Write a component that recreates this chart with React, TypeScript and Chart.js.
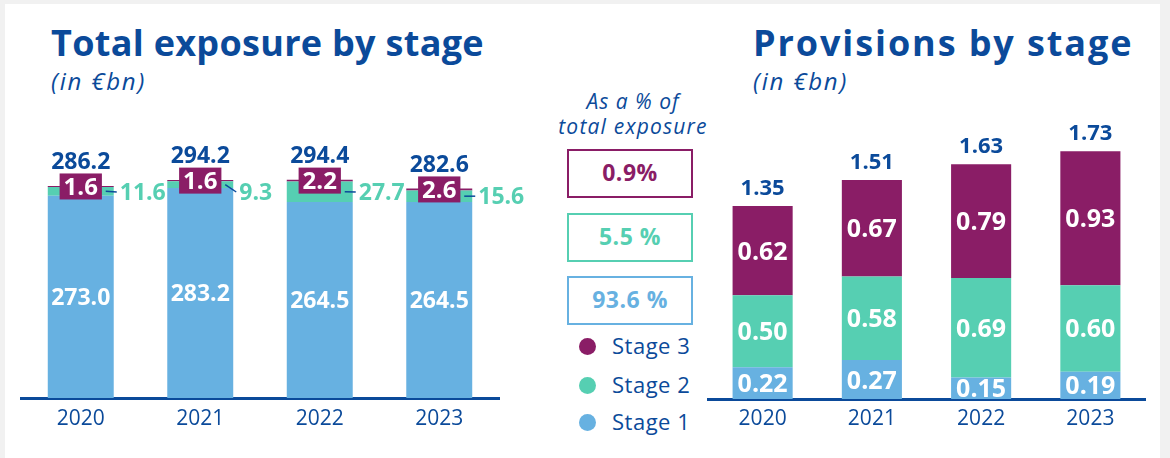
import React, { useEffect, useRef } from 'react';
import { Chart, registerables } from 'chart.js';

Chart.register(...registerables);

const years = ['2020', '2021', '2022', '2023'];
const exposureStage1 = [273.0, 283.2, 264.5, 264.5];
const exposureStage2 = [11.6, 9.3, 27.7, 15.6];
const exposureStage3 = [1.6, 1.6, 2.2, 2.6];
const exposureTotals = [286.2, 294.2, 294.4, 282.6];
const provisionStage1 = [0.22, 0.27, 0.15, 0.19];
const provisionStage2 = [0.5, 0.58, 0.69, 0.6];
const provisionStage3 = [0.62, 0.67, 0.79, 0.93];
const provisionTotals = [1.35, 1.51, 1.63, 1.73];
const shareLabels = ['0.9%', '5.5 %', '93.6 %'];
const legendLabels = ['Stage 3', 'Stage 2', 'Stage 1'];

const NAVY = '#0b4a9a';
const BLUE = '#67b1e1';
const GREEN = '#56cfb2';
const PURPLE = '#8a1d66';
const FONT = '"Open Sans", sans-serif';

function fillCentered(ctx: CanvasRenderingContext2D, text: string, x: number, yc: number, size: number) {
  ctx.textBaseline = 'alphabetic';
  ctx.fillText(text, x, yc + size * 0.36);
}

function xAxis(padding: number) {
  return {
    stacked: true,
    grid: { display: false, drawTicks: false, tickLength: 0 },
    border: { display: true, color: NAVY, width: 3 },
    ticks: { color: NAVY, font: { family: FONT, size: 21, weight: 400 }, padding },
    afterFit: (scale: any) => {
      scale.height = 40;
    },
  };
}

function ExposureChart() {
  const ref = useRef<HTMLCanvasElement>(null);
  useEffect(() => {
    const labelPlugin = {
      id: 'exposureLabels',
      afterDatasetsDraw(chart: any) {
        const ctx = chart.ctx as CanvasRenderingContext2D;
        const m1 = chart.getDatasetMeta(0);
        const m2 = chart.getDatasetMeta(1);
        const m3 = chart.getDatasetMeta(2);
        const calloutMinY = chart.chartArea.top + 46;
        ctx.save();
        years.forEach((_, i) => {
          const b1 = m1.data[i];
          const b2 = m2.data[i];
          const b3 = m3.data[i];
          // stage 1 value inside bar
          ctx.font = `700 23px ${FONT}`;
          ctx.fillStyle = '#ffffff';
          ctx.textAlign = 'center';
          fillCentered(ctx, exposureStage1[i].toFixed(1), b1.x, (b1.y + b1.base) / 2, 23);
          // stage 2 callout
          const right = b2.x + b2.width / 2;
          const yc = (b2.y + b2.base) / 2;
          const ly = Math.max(yc, calloutMinY);
          ctx.strokeStyle = NAVY;
          ctx.lineWidth = 1.5;
          ctx.beginPath();
          ctx.moveTo(right - 8, yc);
          ctx.lineTo(right + 3, ly);
          ctx.stroke();
          ctx.font = `700 23px ${FONT}`;
          ctx.fillStyle = GREEN;
          ctx.textAlign = 'left';
          fillCentered(ctx, exposureStage2[i].toFixed(1), right + 6, ly, 23);
          // stage 3 box
          const t3 = exposureStage3[i].toFixed(1);
          ctx.font = `700 24px ${FONT}`;
          const w = ctx.measureText(t3).width + 8;
          const c3 = (b3.y + b3.base) / 2;
          ctx.fillStyle = PURPLE;
          ctx.fillRect(b3.x - w / 2, c3 - 13, w, 26);
          ctx.fillStyle = '#ffffff';
          ctx.textAlign = 'center';
          fillCentered(ctx, t3, b3.x, c3, 24);
          // total
          ctx.font = `700 23px ${FONT}`;
          ctx.fillStyle = NAVY;
          fillCentered(ctx, exposureTotals[i].toFixed(1), b3.x, b3.y - 25, 23);
        });
        ctx.restore();
      },
    };
    const chart = new Chart(ref.current as HTMLCanvasElement, {
      type: 'bar',
      data: {
        labels: years,
        datasets: [
          { label: 'Stage 1', data: exposureStage1, backgroundColor: BLUE },
          { label: 'Stage 2', data: exposureStage2, backgroundColor: GREEN },
          { label: 'Stage 3', data: exposureStage3, backgroundColor: PURPLE },
        ],
      },
      options: {
        animation: false,
        responsive: false,
        maintainAspectRatio: false,
        layout: { padding: { left: 10, right: 42, top: 26, bottom: 20 } },
        datasets: { bar: { categoryPercentage: 1, barPercentage: 0.552 } },
        plugins: { legend: { display: false }, tooltip: { enabled: false } },
        scales: {
          x: xAxis(8) as any,
          y: { display: false, stacked: true, min: 0, max: 340 },
        },
      },
      plugins: [labelPlugin],
    });
    return () => chart.destroy();
  }, []);
  return (
    <canvas
      ref={ref}
      width={530}
      height={338}
      style={{ position: 'absolute', left: 11, top: 120, width: 530, height: 338 }}
    />
  );
}

function ProvisionChart() {
  const ref = useRef<HTMLCanvasElement>(null);
  useEffect(() => {
    const labelPlugin = {
      id: 'provisionLabels',
      afterDatasetsDraw(chart: any) {
        const ctx = chart.ctx as CanvasRenderingContext2D;
        const series = [provisionStage1, provisionStage2, provisionStage3];
        ctx.save();
        ctx.textAlign = 'center';
        series.forEach((vals, d) => {
          const meta = chart.getDatasetMeta(d);
          vals.forEach((v, i) => {
            const b = meta.data[i];
            ctx.font = `700 25px ${FONT}`;
            ctx.fillStyle = '#ffffff';
            fillCentered(ctx, v.toFixed(2), b.x, (b.y + b.base) / 2, 25);
          });
        });
        const top = chart.getDatasetMeta(2);
        provisionTotals.forEach((v, i) => {
          const b = top.data[i];
          ctx.font = `700 22px ${FONT}`;
          ctx.fillStyle = NAVY;
          fillCentered(ctx, v.toFixed(2), b.x, b.y - 19, 22);
        });
        ctx.restore();
      },
    };
    const chart = new Chart(ref.current as HTMLCanvasElement, {
      type: 'bar',
      data: {
        labels: years,
        datasets: [
          { label: 'Stage 1', data: provisionStage1, backgroundColor: BLUE },
          { label: 'Stage 2', data: provisionStage2, backgroundColor: GREEN },
          { label: 'Stage 3', data: provisionStage3, backgroundColor: PURPLE },
        ],
      },
      options: {
        animation: false,
        responsive: false,
        maintainAspectRatio: false,
        layout: { padding: { left: 8, right: 15, top: 11, bottom: 19 } },
        datasets: { bar: { categoryPercentage: 1, barPercentage: 0.55 } },
        plugins: { legend: { display: false }, tooltip: { enabled: false } },
        scales: {
          x: xAxis(7) as any,
          y: { display: false, stacked: true, min: 0, max: 2.0 },
        },
      },
      plugins: [labelPlugin],
    });
    return () => chart.destroy();
  }, []);
  return (
    <canvas
      ref={ref}
      width={460}
      height={358}
      style={{ position: 'absolute', left: 700, top: 100, width: 460, height: 358 }}
    />
  );
}

type TxtProps = {
  x: number;
  base: number;
  size: number;
  weight?: number;
  italic?: boolean;
  color?: string;
  align?: 'left' | 'center';
  spacing?: number;
  children: React.ReactNode;
};

function Txt({ x, base, size, weight = 400, italic = false, color = NAVY, align = 'left', spacing = 0, children }: TxtProps) {
  const top = base - 0.888 * size;
  const style: React.CSSProperties = {
    position: 'absolute',
    top,
    fontFamily: FONT,
    fontSize: size,
    lineHeight: `${size}px`,
    fontWeight: weight,
    fontStyle: italic ? 'italic' : 'normal',
    color,
    whiteSpace: 'nowrap',
    letterSpacing: spacing,
  };
  if (align === 'center') {
    style.left = x - 200;
    style.width = 400;
    style.textAlign = 'center';
  } else {
    style.left = x;
  }
  return <div style={style}>{children}</div>;
}

const boxColors = [PURPLE, GREEN, BLUE];
const boxTops = [149, 213, 276];
const legendColors = [PURPLE, GREEN, BLUE];
const legendYs = [346, 385, 422];

export default function App() {
  useEffect(() => {
    document.body.style.margin = '0';
    document.body.style.background = '#f1f1f1';
  }, []);
  return (
    <div
      style={{
        position: 'relative',
        width: 1170,
        height: 458,
        overflow: 'hidden',
        background: '#f1f1f1',
        fontFamily: FONT,
      }}
    >
      <style>{'body{margin:0}'}</style>
      <div style={{ position: 'absolute', left: 5, top: 4, width: 1155, height: 470, background: '#ffffff' }} />

      <Txt x={51} base={57} size={36} weight={700} spacing={0.3}>Total exposure by stage</Txt>
      <Txt x={51} base={90} size={24} italic spacing={1.8}>(in €bn)</Txt>
      <Txt x={753} base={57} size={36} weight={700} spacing={1.9}>Provisions by stage</Txt>
      <Txt x={753} base={90} size={24} italic spacing={1.8}>(in €bn)</Txt>

      <Txt x={633} base={110} size={21} italic spacing={1} align="center">As a % of</Txt>
      <Txt x={633} base={135} size={21} italic spacing={1.2} align="center">total exposure</Txt>

      {shareLabels.map((s, i) => (
        <div
          key={s}
          style={{
            position: 'absolute',
            left: 567,
            top: boxTops[i],
            width: 126,
            height: 49,
            boxSizing: 'border-box',
            border: `2px solid ${boxColors[i]}`,
          }}
        />
      ))}
      {shareLabels.map((s, i) => (
        <Txt key={'t' + s} x={630} base={boxTops[i] + 24.5 + 8} size={23} weight={700} spacing={0.5} color={boxColors[i]} align="center">
          {s}
        </Txt>
      ))}

      {legendLabels.map((l, i) => (
        <React.Fragment key={l}>
          <div
            style={{
              position: 'absolute',
              left: 587 - 8.5,
              top: legendYs[i] - 8.5,
              width: 17,
              height: 17,
              borderRadius: '50%',
              background: legendColors[i],
            }}
          />
          <Txt x={612} base={legendYs[i] + 8} size={22} spacing={0.5}>{l}</Txt>
        </React.Fragment>
      ))}

      <ExposureChart />
      <ProvisionChart />
    </div>
  );
}
